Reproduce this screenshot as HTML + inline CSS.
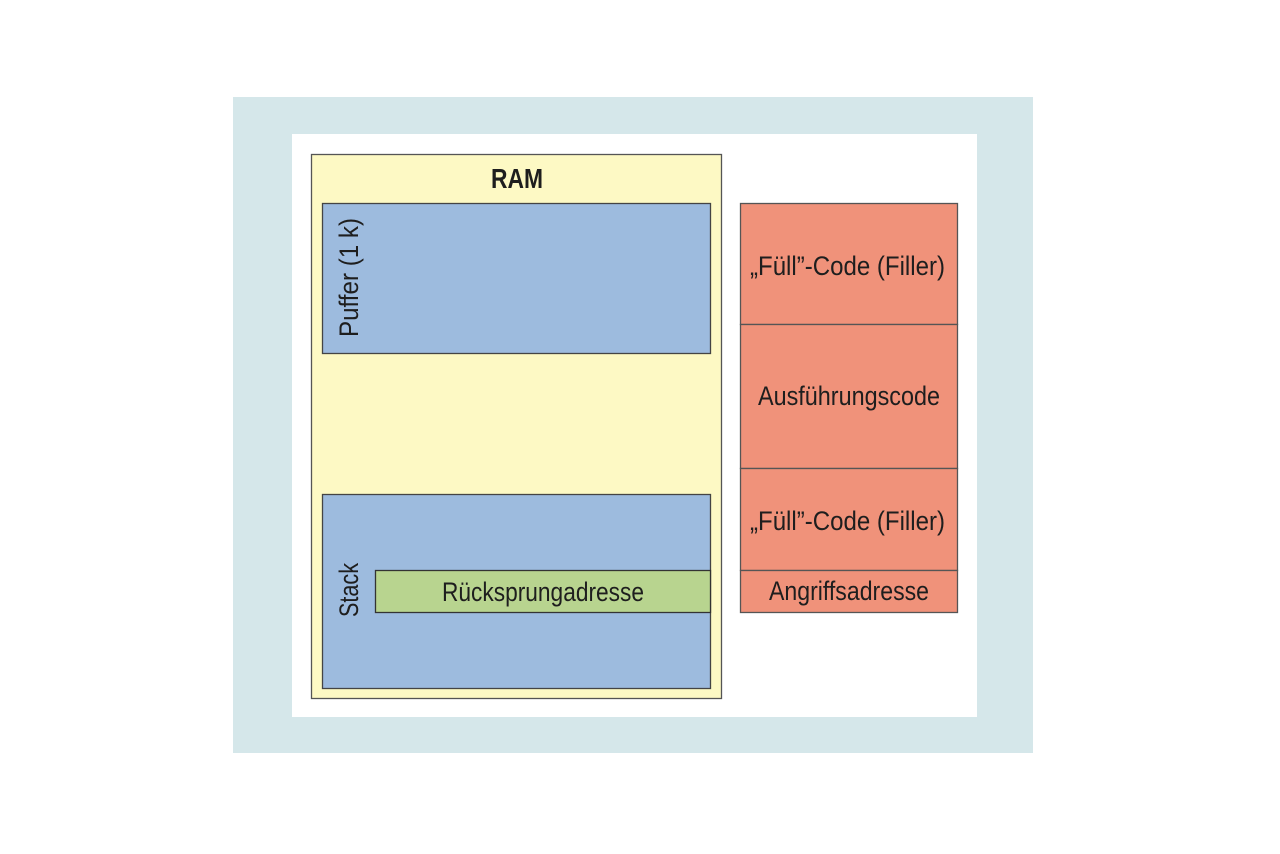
<!DOCTYPE html>
<html><head><meta charset="utf-8"><style>
html,body{margin:0;padding:0;background:#fff;}
svg{display:block;}
text{font-family:"Liberation Sans",sans-serif;fill:#1e1e1e;}
</style></head><body>
<svg width="1280" height="854" viewBox="0 0 1280 854" xmlns="http://www.w3.org/2000/svg">
<rect x="0" y="0" width="1280" height="854" fill="#fff"/>
<rect x="233" y="97" width="800" height="656" fill="#d5e7ea"/>
<rect x="292" y="134" width="685" height="583" fill="#fff"/>
<rect x="311.5" y="154.5" width="410" height="544" fill="#fdf9c4" stroke="#555" stroke-width="1.3"/>
<text x="491" y="188" font-size="28" font-weight="bold" textLength="52" lengthAdjust="spacingAndGlyphs">RAM</text>
<rect x="322.5" y="203.5" width="388" height="150" fill="#9dbbde" stroke="#444" stroke-width="1.3"/>
<text transform="translate(358,337) rotate(-90)" font-size="27" textLength="119" lengthAdjust="spacingAndGlyphs">Puffer (1 k)</text>
<rect x="322.5" y="494.5" width="388" height="194" fill="#9dbbde" stroke="#444" stroke-width="1.3"/>
<text transform="translate(358,617) rotate(-90)" font-size="27" textLength="54" lengthAdjust="spacingAndGlyphs">Stack</text>
<rect x="375.5" y="570.5" width="335" height="42" fill="#b8d48f" stroke="#333" stroke-width="1.3"/>
<text x="442" y="601" font-size="27" textLength="202" lengthAdjust="spacingAndGlyphs">Rücksprungadresse</text>
<g fill="#f0927a" stroke="#555" stroke-width="1.3">
<rect x="740.5" y="203.5" width="217" height="121"/>
<rect x="740.5" y="324.5" width="217" height="144"/>
<rect x="740.5" y="468.5" width="217" height="102"/>
<rect x="740.5" y="570.5" width="217" height="42"/>
</g>
<text x="750" y="275" font-size="27" textLength="195" lengthAdjust="spacingAndGlyphs">„Füll”-Code (Filler)</text>
<text x="758" y="405" font-size="27" textLength="182" lengthAdjust="spacingAndGlyphs">Ausführungscode</text>
<text x="750" y="530" font-size="27" textLength="195" lengthAdjust="spacingAndGlyphs">„Füll”-Code (Filler)</text>
<text x="769" y="600" font-size="27" textLength="160" lengthAdjust="spacingAndGlyphs">Angriffsadresse</text>
</svg>
</body></html>
